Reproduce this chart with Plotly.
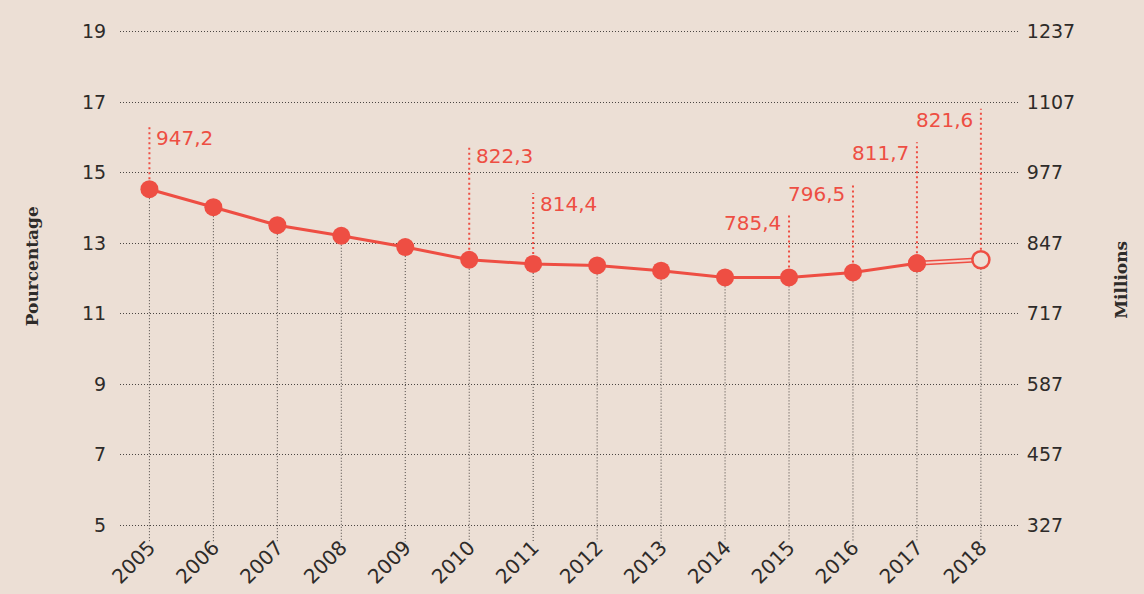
import plotly.graph_objects as go

# ---- data ----
years = [2005, 2006, 2007, 2008, 2009, 2010, 2011, 2012, 2013, 2014, 2015, 2016, 2017, 2018]
pct = [14.53, 14.02, 13.51, 13.21, 12.89, 12.53, 12.41, 12.37, 12.22, 12.03, 12.03, 12.17, 12.43, 12.53]
label_years = [2005, 2010, 2011, 2015, 2016, 2017, 2018]
label_millions = ["947,2", "822,3", "814,4", "785,4", "796,5", "811,7", "821,6"]
left_ticks = [5, 7, 9, 11, 13, 15, 17, 19]
right_ticks = [327, 457, 587, 717, 847, 977, 1107, 1237]

# ---- styling ----
BG = "#ECDFD5"
RED = "#EE4E43"
TXT = "#2E2B29"
GRID = "#4A4542"
FONT = "DejaVu Sans"
PX_PER_UNIT = 35.3
# leader-line lengths above the point (px) and text side
leader_px = {2005: 62, 2010: 115, 2011: 71, 2015: 65, 2016: 90, 2017: 121, 2018: 151}
label_side = {2005: "right", 2010: "right", 2011: "right", 2015: "left", 2016: "left", 2017: "left", 2018: "left"}

y_range = [4.5, 19.1]
def to_millions(v):
    return 327 + (v - 5) * 65

fig = go.Figure()

shapes = []
annotations = []
val = dict(zip(years, pct))

# vertical dotted drop lines
for yr, v in zip(years, pct):
    shapes.append(dict(type="line", xref="x", yref="y", x0=yr, x1=yr, y0=v, y1=4.54,
                       line=dict(color=GRID, width=1, dash="1px,2px"), layer="below"))

# red leader lines + labels
for yr, txt in zip(label_years, label_millions):
    v = val[yr]
    top = v + leader_px[yr] / PX_PER_UNIT
    shapes.append(dict(type="line", xref="x", yref="y", x0=yr, x1=yr, y0=v, y1=top,
                       line=dict(color=RED, width=2, dash="2px,3px"), layer="below"))
    right = label_side[yr] == "right"
    annotations.append(dict(x=yr, y=top, xref="x", yref="y", text=txt, showarrow=False,
                            xanchor="left" if right else "right", yanchor="top",
                            xshift=5 if right else -6, yshift=3,
                            font=dict(family=FONT, size=20, color=RED)))

# main line (2005-2017)
fig.add_trace(go.Scatter(x=years[:-1], y=pct[:-1], mode="lines+markers",
                         line=dict(color=RED, width=3),
                         marker=dict(size=18, color=RED), hoverinfo="skip", showlegend=False))
# projected segment 2017-2018 (double line)
fig.add_trace(go.Scatter(x=years[-2:], y=pct[-2:], mode="lines",
                         line=dict(color=RED, width=5), hoverinfo="skip", showlegend=False))
fig.add_trace(go.Scatter(x=years[-2:], y=pct[-2:], mode="lines",
                         line=dict(color="#F4D3CB", width=2), hoverinfo="skip", showlegend=False))
fig.add_trace(go.Scatter(x=years[-2:-1], y=pct[-2:-1], mode="markers",
                         marker=dict(size=18, color=RED), hoverinfo="skip", showlegend=False))
fig.add_trace(go.Scatter(x=years[-1:], y=pct[-1:], mode="markers",
                         marker=dict(size=17, color=BG, line=dict(color=RED, width=2.5)),
                         hoverinfo="skip", showlegend=False))
# invisible trace for right axis
fig.add_trace(go.Scatter(x=[years[0]], y=[to_millions(pct[0])], yaxis="y2", mode="markers",
                         marker=dict(opacity=0), hoverinfo="skip", showlegend=False))

annotations.append(dict(text="Pourcentage", xref="paper", yref="paper", x=-0.111, y=0.538,
                        textangle=-90, showarrow=False,
                        font=dict(family="DejaVu Serif", size=17, color=TXT, weight="bold")))
annotations.append(dict(text="Millions", xref="paper", yref="paper", x=1.128, y=0.511,
                        textangle=-90, showarrow=False,
                        font=dict(family="DejaVu Serif", size=17, color=TXT, weight="bold")))

fig.update_layout(
    width=1144, height=594,
    paper_bgcolor=BG, plot_bgcolor=BG,
    margin=dict(l=120, r=126, t=28, b=50.6),
    font=dict(family=FONT, size=19, color=TXT),
    shapes=shapes, annotations=annotations,
    xaxis=dict(range=[2004.54, 2018.58], tickvals=years, ticktext=[str(y) for y in years],
               tickangle=-45, showgrid=False, zeroline=False, showline=False, automargin=False,
               ticks="", ticklabelstandoff=-12,
               tickfont=dict(family=FONT, size=20, color=TXT)),
    yaxis=dict(range=y_range, tickvals=left_ticks, ticktext=[str(t) for t in left_ticks],
               showgrid=True, gridcolor=GRID, gridwidth=1, griddash="1px,2px",
               zeroline=False, showline=False, automargin=False,
               ticks="outside", ticklen=9, tickcolor="rgba(0,0,0,0)",
               tickfont=dict(family=FONT, size=19, color=TXT)),
    yaxis2=dict(range=[to_millions(y_range[0]), to_millions(y_range[1])], overlaying="y", side="right",
                tickvals=right_ticks, ticktext=[str(t) for t in right_ticks],
                showgrid=False, zeroline=False, showline=False, automargin=False,
                ticks="outside", ticklen=4, tickcolor="rgba(0,0,0,0)",
                tickfont=dict(family=FONT, size=19, color=TXT)),
)

fig.write_html("out.html", config={"displayModeBar": False},
               post_script="document.body.style.margin='0';document.body.style.background='%s';" % BG)
